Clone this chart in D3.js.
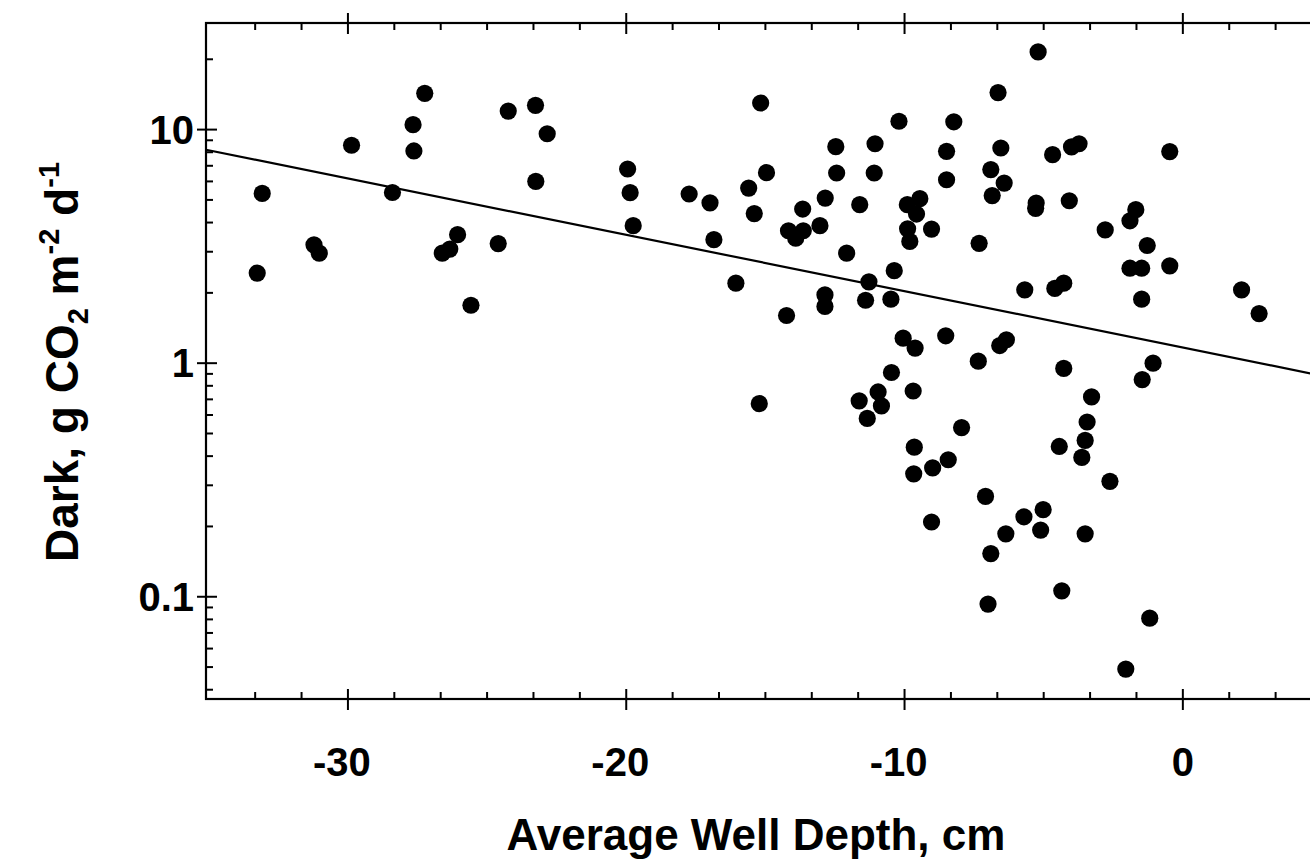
<!DOCTYPE html>
<html>
<head>
<meta charset="utf-8">
<script src="https://cdn.jsdelivr.net/npm/d3@7"></script>
<style>
  body { margin: 0; background: #fff; }
  svg { display: block; font-family: "Liberation Sans", Arial, sans-serif; }
  .axis-line { stroke: #000; stroke-width: 2.2; fill: none; }
  .tick-mark { stroke: #000; stroke-width: 2; }
  .fit { stroke: #000; stroke-width: 2.2; fill: none; }
  .dot { fill: #000; }
  .label { font-weight: bold; fill: #000; }
</style>
</head>
<body>
<svg width="1310" height="859"></svg>
<script>
// average well depth (cm)
var depth = [
  -27.24, -24.24, -23.26, -27.66, -22.84, -29.87, -27.63, -23.25, -33.08, -28.4,
  -26.06, -24.6, -26.34, -26.61, -31.22, -31.03, -33.26, -25.58,
  -15.17, -10.2, -12.47, -11.06, -19.95, -14.96, -12.44, -11.09, -19.86, -17.74,
  -15.6, -16.99, -15.4, -12.85, -11.61, -13.66, -19.75, -16.85, -14.17, -13.64,
  -13.91, -13.04, -12.08, -10.37, -11.28, -11.4, -10.49, -16.06, -12.86, -12.86,
  -14.24, -10.05, -9.62, -9.45, -9.9, -9.57, -9.89, -9.81, -9.03,
  -5.2, -6.64, -8.23, -8.49, -6.54, -4.68, -4.0, -3.73, -0.47, -8.49,
  -6.9, -6.42, -6.85, -5.29, -5.27, -4.08, -7.32, -2.79, -1.69, -1.9,
  -1.28, -1.9, -1.48, -0.47, -1.48, -5.68, -4.6, -4.28, 2.11, 2.74,
  -8.52, -6.58, -6.34, -7.35, -1.07,
  -15.22, -10.47, -10.95, -11.63, -10.83, -11.34, -9.69, -9.65, -8.99, -9.67, -9.03,
  -4.28, -1.46, -3.28, -7.95, -3.44, -3.51, -4.44, -3.63, -8.43, -2.62,
  -7.09, -5.02, -5.71, -5.11, -6.36, -3.51, -6.9, -4.35, -7.0, -1.19, -2.05
];
// dark CO2 flux (g CO2 m-2 d-1)
var flux = [
  14.3, 12.0, 12.7, 10.5, 9.6, 8.57, 8.1, 6.0, 5.33, 5.38,
  3.55, 3.25, 3.08, 2.96, 3.21, 2.96, 2.43, 1.77,
  13.0, 10.86, 8.45, 8.7, 6.78, 6.54, 6.52, 6.52, 5.37, 5.3,
  5.62, 4.86, 4.37, 5.09, 4.77, 4.57, 3.88, 3.38, 3.69, 3.69,
  3.43, 3.88, 2.96, 2.49, 2.23, 1.86, 1.88, 2.2, 1.96, 1.75,
  1.6, 1.28, 1.16, 5.06, 4.77, 4.35, 3.76, 3.32, 3.75,
  21.5, 14.4, 10.8, 8.07, 8.34, 7.81, 8.43, 8.7, 8.05, 6.1,
  6.74, 5.9, 5.22, 4.6, 4.85, 4.96, 3.26, 3.72, 4.54, 4.07,
  3.19, 2.55, 2.55, 2.61, 1.88, 2.06, 2.09, 2.2, 2.06, 1.63,
  1.31, 1.19, 1.26, 1.02, 1.0,
  0.671, 0.912, 0.753, 0.69, 0.656, 0.58, 0.76, 0.437, 0.356, 0.336, 0.209,
  0.95, 0.851, 0.717, 0.53, 0.56, 0.467, 0.44, 0.395, 0.386, 0.312,
  0.269, 0.236, 0.22, 0.193, 0.186, 0.186, 0.153, 0.106, 0.093, 0.081, 0.049
];

// regression line end points
var fitDepth = [-35.1, 5];
var fitFlux = [8.2, 0.884];

var xTicks = [-30, -20, -10, 0];
var xTickLabels = ["-30", "-20", "-10", "0"];
var yTicks = [0.1, 1, 10];
var yTickLabels = ["0.1", "1", "10"];

var svg = d3.select('svg');

var plotLeft = 206, plotRight = 1322, plotTop = 23, plotBottom = 699;

var x = d3.scaleLinear().domain([-35.1, 5]).range([plotLeft, plotRight]);
var y = d3.scaleLog().domain([0.0365, 28.6]).range([plotBottom, plotTop]);

// minor ticks
var xMinor = d3.range(-30 - 2 * 10 / 6, 5, 10 / 6).filter(function(v) {
  return !xTicks.some(function(t) { return Math.abs(t - v) < 0.01; });
});
var yMinor = [];
[0.01, 0.1, 1, 10].forEach(function(dec) {
  for (var k = 2; k <= 9; k++) {
    var v = dec * k;
    if (v > y.domain()[0] && v < y.domain()[1]) yMinor.push(v);
  }
});

var ticks = svg.append('g');
xMinor.forEach(function(v) {
  ticks.append('line').attr('class', 'tick-mark')
    .attr('x1', x(v)).attr('x2', x(v)).attr('y1', plotBottom).attr('y2', plotBottom - 7);
  ticks.append('line').attr('class', 'tick-mark')
    .attr('x1', x(v)).attr('x2', x(v)).attr('y1', plotTop).attr('y2', plotTop + 7);
});
xTicks.forEach(function(v) {
  ticks.append('line').attr('class', 'tick-mark')
    .attr('x1', x(v)).attr('x2', x(v)).attr('y1', plotBottom - 10).attr('y2', plotBottom + 11);
  ticks.append('line').attr('class', 'tick-mark')
    .attr('x1', x(v)).attr('x2', x(v)).attr('y1', plotTop - 10).attr('y2', plotTop + 11);
});
yMinor.forEach(function(v) {
  ticks.append('line').attr('class', 'tick-mark')
    .attr('x1', plotLeft).attr('x2', plotLeft + 7).attr('y1', y(v)).attr('y2', y(v));
  ticks.append('line').attr('class', 'tick-mark')
    .attr('x1', plotRight).attr('x2', plotRight - 7).attr('y1', y(v)).attr('y2', y(v));
});
yTicks.forEach(function(v) {
  ticks.append('line').attr('class', 'tick-mark')
    .attr('x1', plotLeft - 9).attr('x2', plotLeft + 11).attr('y1', y(v)).attr('y2', y(v));
  ticks.append('line').attr('class', 'tick-mark')
    .attr('x1', plotRight - 11).attr('x2', plotRight + 9).attr('y1', y(v)).attr('y2', y(v));
});

svg.append('rect')
  .attr('class', 'axis-line')
  .attr('x', plotLeft).attr('y', plotTop)
  .attr('width', plotRight - plotLeft).attr('height', plotBottom - plotTop);

// tick labels
svg.selectAll('.xlab')
  .data(xTicks)
  .enter().append('text')
  .attr('class', 'label xlab')
  .attr('x', function(d) { return x(d) - (d < 0 ? 6 : 0); })
  .attr('y', 776)
  .attr('text-anchor', 'middle')
  .style('font-size', '40px')
  .text(function(d, i) { return xTickLabels[i]; });

svg.selectAll('.ylab')
  .data(yTicks)
  .enter().append('text')
  .attr('class', 'label ylab')
  .attr('x', 194)
  .attr('y', function(d) { return y(d) + 14; })
  .attr('text-anchor', 'end')
  .style('font-size', '40px')
  .text(function(d, i) { return yTickLabels[i]; });

// axis titles
svg.append('text')
  .attr('class', 'label')
  .attr('x', 756)
  .attr('y', 850)
  .attr('text-anchor', 'middle')
  .style('font-size', '44px')
  .text('Average Well Depth, cm');

var yTitle = svg.append('text')
  .attr('class', 'label')
  .attr('transform', 'translate(78,362) rotate(-90)')
  .attr('text-anchor', 'middle')
  .style('font-size', '46px');
yTitle.append('tspan').text('Dark, g CO');
yTitle.append('tspan').attr('dy', 10).style('font-size', '29px').text('2');
yTitle.append('tspan').attr('dy', -10).text(' m');
yTitle.append('tspan').attr('dy', -19).style('font-size', '29px').text('-2');
yTitle.append('tspan').attr('dy', 19).text(' d');
yTitle.append('tspan').attr('dy', -19).style('font-size', '29px').text('-1');

// fitted line
var fit = d3.line()
  .x(function(d) { return x(d[0]); })
  .y(function(d) { return y(d[1]); });
svg.append('path')
  .attr('class', 'fit')
  .attr('d', fit(d3.zip(fitDepth, fitFlux)));

// points
svg.selectAll('.dot')
  .data(d3.zip(depth, flux))
  .enter().append('circle')
  .attr('class', 'dot')
  .attr('cx', function(d) { return x(d[0]); })
  .attr('cy', function(d) { return y(d[1]); })
  .attr('r', 8.6);
</script>
</body>
</html>
